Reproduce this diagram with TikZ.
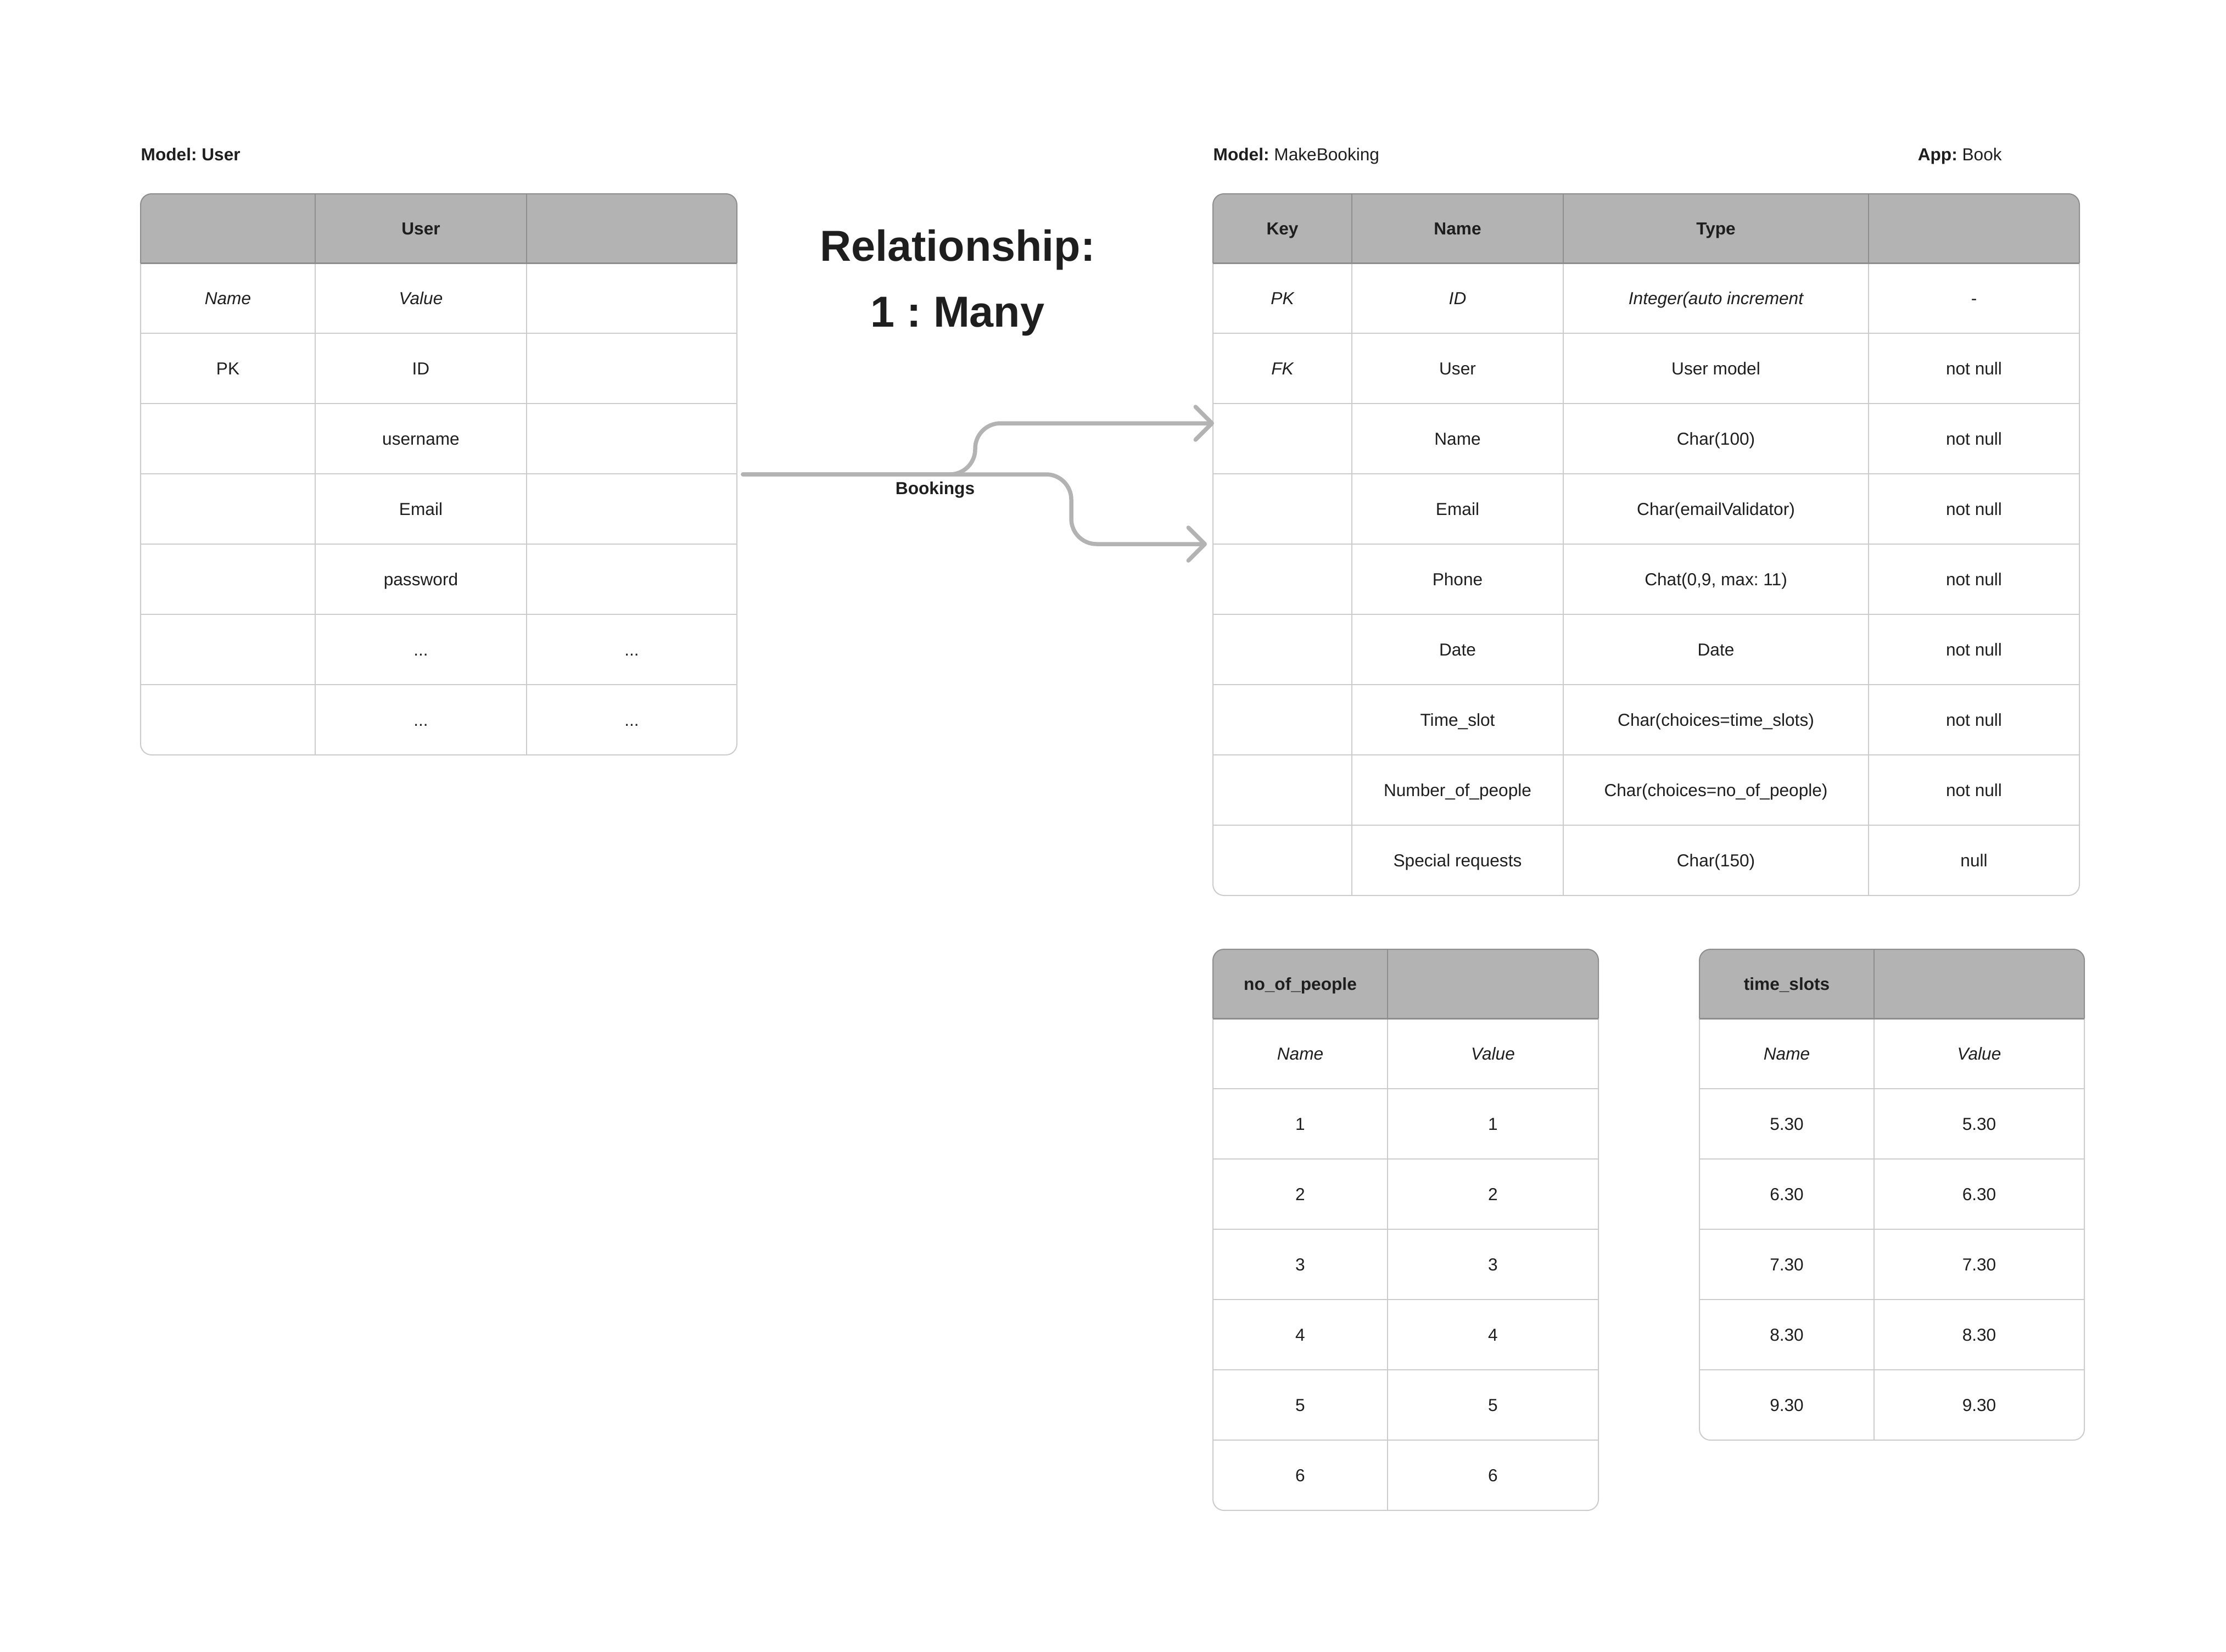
\documentclass[tikz,border=0pt]{standalone}
\usepackage{fontspec}
\setmainfont{Liberation Sans}
\usetikzlibrary{arrows.meta}
\frenchspacing
\definecolor{hdrfill}{HTML}{B3B3B3}
\definecolor{hdrcol}{HTML}{8E8E8E}
\definecolor{bodycol}{HTML}{CCCCCC}
\definecolor{ink}{HTML}{1E1E1E}
\definecolor{conn}{HTML}{B3B3B3}

\newcommand\dbtab[5]{%
  \pgfmathsetmacro\tabhb{#3+1.26}%
  \pgfmathsetmacro\tabbt{\tabhb+1.28*#4}%
  \pgfmathtruncatemacro\tabnm{#4-1}%
  \fill[hdrfill] (#1,-\tabhb) -- (#1,{-#3-0.2}) arc[start angle=180,end angle=90,radius=0.2] -- ({#2-0.2},-#3) arc[start angle=90,end angle=0,radius=0.2] -- (#2,-\tabhb) -- cycle;
  \foreach \tabi in {1,...,\tabnm} \draw[bodyln] (#1,{-\tabhb-1.28*\tabi}) -- (#2,{-\tabhb-1.28*\tabi});
  \foreach \tabc in {#5} {\draw[bodyln] (\tabc,-\tabhb) -- (\tabc,-\tabbt); \draw[hdrln] (\tabc,-#3) -- (\tabc,-\tabhb);}
  \draw[bodyln] (#1,-\tabhb) -- (#1,{-\tabbt+0.2}) arc[start angle=180,end angle=270,radius=0.2] -- ({#2-0.2},-\tabbt) arc[start angle=270,end angle=360,radius=0.2] -- (#2,-\tabhb);
  \draw[hdrln] (#1,-\tabhb) -- (#1,{-#3-0.2}) arc[start angle=180,end angle=90,radius=0.2] -- ({#2-0.2},-#3) arc[start angle=90,end angle=0,radius=0.2] -- (#2,-\tabhb);
  \draw[hdrln, line width=0.03cm] (#1,-\tabhb) -- (#2,-\tabhb);
}

\begin{document}
\begin{tikzpicture}[
  bodyln/.style={draw=bodycol, line width=0.02cm},
  hdrln/.style={draw=hdrcol, line width=0.02cm},
  tcell/.style={font=\fontsize{9}{10}\selectfont, text=ink, inner sep=0pt, text height=0.23cm, text depth=0pt, anchor=center},
  hcell/.style={tcell, font=\fontsize{9}{10}\selectfont\bfseries},
  icell/.style={tcell, font=\fontsize{9}{10}\selectfont\itshape},
  lbl/.style={font=\fontsize{9}{10}\selectfont, text=ink, inner sep=0pt, anchor=base west},
  bigtitle/.style={font=\fontsize{22.5}{27}\selectfont\bfseries, text=ink, inner sep=0pt, anchor=base},
  linkline/.style={draw=conn, line width=0.075cm, line cap=round, rounded corners=0.46cm},
  arrowtip/.style={-{Straight Barb[length=0.3cm,width=0.6cm,round]}}
]
\useasboundingbox (0,0) rectangle (40.54,-30.08);

% tables
\dbtab{2.56}{13.42}{3.53}{7}{5.74,9.59}
\dbtab{22.09}{37.87}{3.53}{9}{24.62,28.47,34.03}
\dbtab{22.09}{29.11}{17.29}{7}{25.27}
\dbtab{30.95}{37.96}{17.29}{6}{34.13}

% labels
\node[lbl] (lab-user) at (2.56,-2.92) {\textbf{Model: User}};
\node[lbl] (lab-mb) at (22.09,-2.92) {\textbf{Model:} MakeBooking};
\node[lbl] (lab-app) at (34.92,-2.92) {\textbf{App:} Book};

\node[bigtitle] (title1) at (17.44,-4.75) {Relationship:};
\node[bigtitle] (title2) at (17.44,-5.95) {1 : Many};

% User table
\node[hcell] (u-h) at (7.665,-4.16) {User};
\node[icell] (u-n) at (4.15,-5.43) {Name};
\node[icell] (u-v) at (7.665,-5.43) {Value};
\node[tcell] (u-pk) at (4.15,-6.71) {PK};
\node[tcell] (u-id) at (7.665,-6.71) {ID};
\node[tcell] (u-un) at (7.665,-7.99) {username};
\node[tcell] (u-em) at (7.665,-9.27) {Email};
\node[tcell] (u-pw) at (7.665,-10.55) {password};
\node[tcell] (u-d1) at (7.665,-11.83) {...};
\node[tcell] (u-d2) at (11.505,-11.83) {...};
\node[tcell] (u-d3) at (7.665,-13.11) {...};
\node[tcell] (u-d4) at (11.505,-13.11) {...};

% MakeBooking table
\node[hcell] (mb-hk) at (23.355,-4.16) {Key};
\node[hcell] (mb-hn) at (26.545,-4.16) {Name};
\node[hcell] (mb-ht) at (31.25,-4.16) {Type};
\node[icell] (mb-1-k) at (23.355,-5.43) {PK};
\node[icell] (mb-1-n) at (26.545,-5.43) {ID};
\node[icell] (mb-1-t) at (31.25,-5.43) {Integer(auto increment};
\node[tcell] (mb-1-z) at (35.95,-5.43) {-};
\node[icell] (mb-2-k) at (23.355,-6.71) {FK};
\foreach \n/\t/\z [count=\i from 2] in {User/User model/not null, Name/Char(100)/not null, Email/Char(emailValidator)/not null, Phone/{Chat(0,9, max: 11)}/not null, Date/Date/not null, Time\_slot/Char(choices=time\_slots)/not null, Number\_of\_people/Char(choices=no\_of\_people)/not null, Special requests/Char(150)/null}{
  \node[tcell] (mb-\i-n) at (26.545,{-4.15-1.28*\i}) {\n};
  \node[tcell] (mb-\i-t) at (31.25,{-4.15-1.28*\i}) {\t};
  \node[tcell] (mb-\i-z) at (35.95,{-4.15-1.28*\i}) {\z};
}

% no_of_people table
\node[hcell] (np-h) at (23.68,-17.92) {no\_of\_people};
\node[icell] (np-n) at (23.68,-19.19) {Name};
\node[icell] (np-v) at (27.19,-19.19) {Value};
\foreach \v [count=\i from 2] in {1,2,3,4,5,6}{
  \node[tcell] (np-\i-a) at (23.68,{-17.91-1.28*\i}) {\v};
  \node[tcell] (np-\i-b) at (27.19,{-17.91-1.28*\i}) {\v};
}

% time_slots table
\node[hcell] (ts-h) at (32.54,-17.92) {time\_slots};
\node[icell] (ts-n) at (32.54,-19.19) {Name};
\node[icell] (ts-v) at (36.045,-19.19) {Value};
\foreach \v [count=\i from 2] in {5.30,6.30,7.30,8.30,9.30}{
  \node[tcell] (ts-\i-a) at (32.54,{-17.91-1.28*\i}) {\v};
  \node[tcell] (ts-\i-b) at (36.045,{-17.91-1.28*\i}) {\v};
}

% connectors
\coordinate (src) at (13.53,-8.64);
\coordinate (t1) at (22.11,-7.71);
\coordinate (t2) at (21.98,-9.91);
\draw[linkline, arrowtip] (src) -- (17.76,-8.64) -- (17.76,-7.71) -- (t1);
\draw[linkline, arrowtip] (src) -- (19.51,-8.64) -- (19.51,-9.91) -- (t2);
\node[font=\fontsize{9}{10}\selectfont\bfseries, text=ink, inner sep=0pt, anchor=base] (bk) at (17.03,-9.00) {Bookings};
\end{tikzpicture}
\end{document}
